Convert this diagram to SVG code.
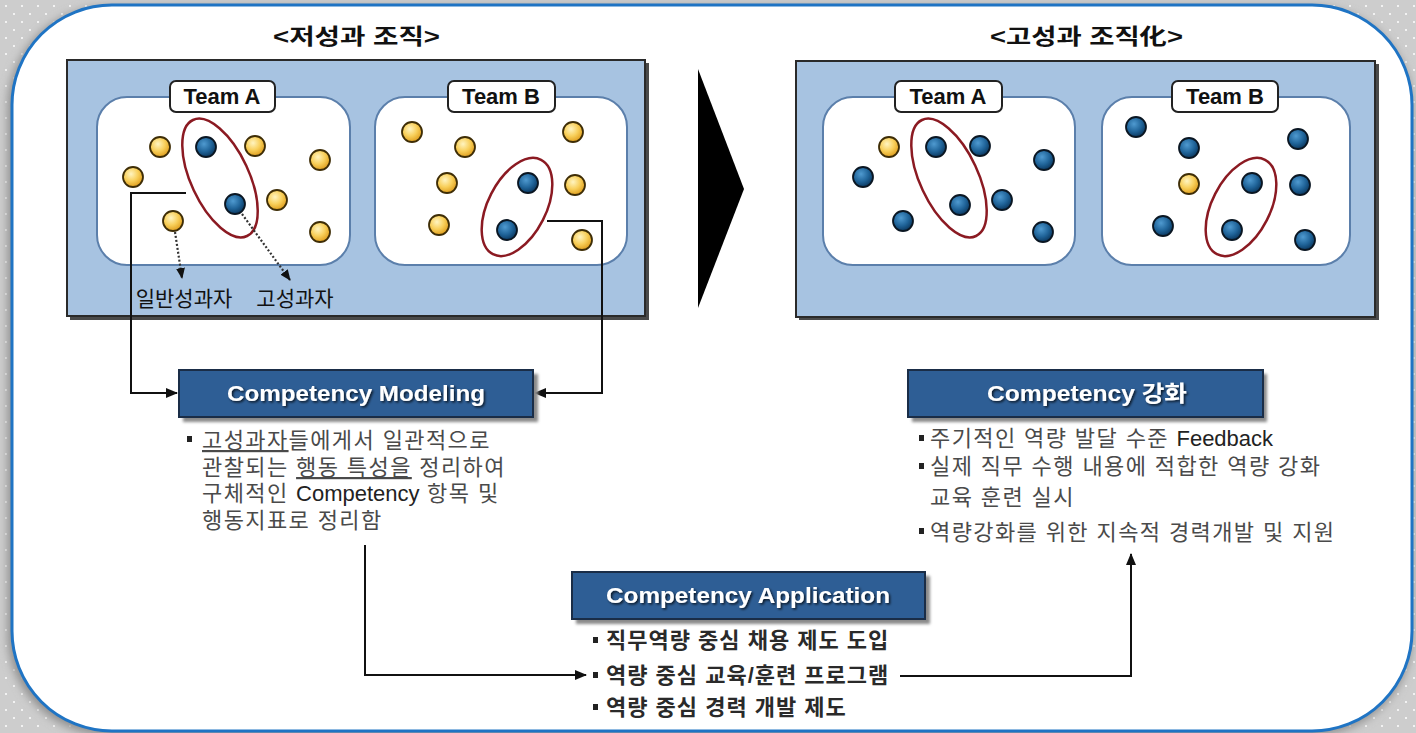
<svg xmlns="http://www.w3.org/2000/svg" width="1416" height="733" viewBox="0 0 1416 733">
<defs>
<pattern id="dots" width="16" height="16" patternUnits="userSpaceOnUse">
<rect width="16" height="16" fill="#cdcdcd"/>
<rect x="5" y="5" width="2" height="2" fill="#f2f2f2"/>
<rect x="13" y="13" width="2" height="2" fill="#f2f2f2"/>
</pattern>
<radialGradient id="gBlue" cx="0.4" cy="0.35" r="0.65">
<stop offset="0" stop-color="#4f9ad0"/>
<stop offset="0.6" stop-color="#1f6398"/>
<stop offset="1" stop-color="#0c3a62"/>
</radialGradient>
<radialGradient id="gYel" cx="0.4" cy="0.35" r="0.65">
<stop offset="0" stop-color="#fff4c0"/>
<stop offset="0.55" stop-color="#f8cf5a"/>
<stop offset="1" stop-color="#e0a020"/>
</radialGradient>
<filter id="blur" x="-5%" y="-5%" width="110%" height="110%"><feGaussianBlur stdDeviation="5"/></filter>
<filter id="sblur"><feGaussianBlur stdDeviation="1.5"/></filter>
<filter id="tsh" x="-5%" y="-20%" width="110%" height="150%"><feDropShadow dx="1.5" dy="1.5" stdDeviation="0.8" flood-color="#000" flood-opacity="0.75"/></filter>
<marker id="arr" markerWidth="12" markerHeight="10" refX="11" refY="5" orient="auto" markerUnits="userSpaceOnUse"><path d="M0,0 L12,5 L0,10 Z" fill="#111"/></marker>
<marker id="arrs" markerWidth="11" markerHeight="9" refX="10" refY="4.5" orient="auto" markerUnits="userSpaceOnUse"><path d="M0,0 L11,4.5 L0,9 Z" fill="#111"/></marker>
<style>
.panel{fill:#a7c3e1;stroke:#2a2a2a;stroke-width:2}
.psh{fill:#4a4a4a}
.team{fill:#fff;stroke:#5b7fab;stroke-width:2}
.lbl{fill:#fff;stroke:#222;stroke-width:2}
.lbltxt{font-family:"Liberation Sans",sans-serif;font-weight:bold;font-size:22px;fill:#111;text-anchor:middle}
.b{fill:url(#gBlue);stroke:#0a1622;stroke-width:1.8}
.y{fill:url(#gYel);stroke:#3e2d06;stroke-width:1.8}
.ell{fill:none;stroke:#8b1a22;stroke-width:2.5}
.conn{fill:none;stroke:#111;stroke-width:2}
.dotl{fill:none;stroke:#333;stroke-width:2.2;stroke-dasharray:2 2}
.box{fill:#2e5e95;stroke:#1a2d47;stroke-width:2}
.boxsh{fill:#8a8a8a}
.boxtxt{font-family:"Liberation Sans","Noto Sans CJK KR",sans-serif;font-weight:bold;font-size:22px;fill:#fff;filter:url(#tsh)}
.body{font-family:"Liberation Sans","Noto Sans CJK KR",sans-serif;font-size:22px;fill:#4a4a4a;letter-spacing:1.4px}
.lat{letter-spacing:0;fill:#222}
.app{font-family:"Liberation Sans","Noto Sans CJK KR",sans-serif;font-size:22px;font-weight:bold;fill:#2a2a2a;letter-spacing:1px}
.title{font-family:"Liberation Sans","Noto Sans CJK KR",sans-serif;font-weight:bold;font-size:22px;fill:#111}
.sub{font-family:"Liberation Sans","Noto Sans CJK KR",sans-serif;font-size:21px;fill:#111;text-anchor:middle}
.bul{fill:#222}
</style>
</defs>

<rect width="1416" height="733" fill="url(#dots)"/>
<rect x="8" y="7" width="1404" height="728" rx="100" fill="#8c8c8c" filter="url(#blur)"/>
<rect x="12" y="5" width="1400" height="726" rx="100" fill="#fff" stroke="#1f74c4" stroke-width="3"/>

<g id="title-left"><text class="title" x="273" y="44" textLength="167" lengthAdjust="spacingAndGlyphs">&lt;저성과 조직&gt;</text></g>
<g id="title-right"><text class="title" x="990" y="44" textLength="193" lengthAdjust="spacingAndGlyphs">&lt;고성과 조직化&gt;</text></g>

<g id="panel-low">
<rect class="psh" x="70" y="63" width="579" height="257"/>
<rect class="panel" x="67" y="60" width="578" height="256"/>
<g id="low-teamA">
<rect class="team" x="97" y="97" width="253" height="168" rx="30"/>
<rect class="lbl" x="170" y="81" width="105" height="31" rx="6"/>
<text class="lbltxt" x="222" y="104">Team A</text>
<ellipse class="ell" cx="220" cy="178" rx="29" ry="64" transform="rotate(-25 220 178)"/>
<circle class="y" cx="160" cy="147" r="10"/>
<circle class="b" cx="206" cy="147" r="10"/>
<circle class="y" cx="255" cy="146" r="10"/>
<circle class="y" cx="320" cy="160" r="10"/>
<circle class="y" cx="133" cy="177" r="10"/>
<circle class="y" cx="277" cy="200" r="10"/>
<circle class="b" cx="235" cy="204" r="10"/>
<circle class="y" cx="173" cy="221" r="10"/>
<circle class="y" cx="320" cy="232" r="10"/>
<path class="dotl" d="M175,232 L182,278" marker-end="url(#arrs)"/>
<path class="dotl" d="M242,214 L290,280" marker-end="url(#arrs)"/>
<text class="sub" x="184" y="306">일반성과자</text>
<text class="sub" x="295" y="306">고성과자</text>
</g>
<g id="low-teamB">
<rect class="team" x="375" y="97" width="252" height="168" rx="30"/>
<rect class="lbl" x="448" y="81" width="107" height="31" rx="6"/>
<text class="lbltxt" x="501" y="104">Team B</text>
<ellipse class="ell" cx="517" cy="207" rx="29" ry="53" transform="rotate(27 517 207)"/>
<circle class="y" cx="412" cy="132" r="10"/>
<circle class="y" cx="465" cy="147" r="10"/>
<circle class="y" cx="573" cy="132" r="10"/>
<circle class="y" cx="447" cy="183" r="10"/>
<circle class="b" cx="528" cy="183" r="10"/>
<circle class="y" cx="575" cy="185" r="10"/>
<circle class="y" cx="439" cy="225" r="10"/>
<circle class="b" cx="507" cy="230" r="10"/>
<circle class="y" cx="582" cy="240" r="10"/>
</g>
</g>

<g id="big-arrow"><polygon points="698,69 744,189 698,308" fill="#000"/></g>

<g id="panel-high">
<rect class="psh" x="799" y="64" width="580" height="256"/>
<rect class="panel" x="796" y="61" width="579" height="256"/>
<g id="high-teamA">
<rect class="team" x="823" y="97" width="252" height="168" rx="30"/>
<rect class="lbl" x="895" y="81" width="107" height="31" rx="6"/>
<text class="lbltxt" x="948" y="104">Team A</text>
<ellipse class="ell" cx="949" cy="178" rx="29" ry="64" transform="rotate(-25 949 178)"/>
<circle class="y" cx="889" cy="147" r="10"/>
<circle class="b" cx="936" cy="147" r="10"/>
<circle class="b" cx="980" cy="146" r="10"/>
<circle class="b" cx="1044" cy="160" r="10"/>
<circle class="b" cx="863" cy="177" r="10"/>
<circle class="b" cx="1002" cy="200" r="10"/>
<circle class="b" cx="960" cy="205" r="10"/>
<circle class="b" cx="903" cy="221" r="10"/>
<circle class="b" cx="1043" cy="232" r="10"/>
</g>
<g id="high-teamB">
<rect class="team" x="1102" y="97" width="248" height="168" rx="30"/>
<rect class="lbl" x="1172" y="81" width="106" height="31" rx="6"/>
<text class="lbltxt" x="1225" y="104">Team B</text>
<ellipse class="ell" cx="1241" cy="207" rx="29" ry="53" transform="rotate(27 1241 207)"/>
<circle class="b" cx="1136" cy="127" r="10"/>
<circle class="b" cx="1189" cy="148" r="10"/>
<circle class="b" cx="1298" cy="139" r="10"/>
<circle class="y" cx="1189" cy="184" r="10"/>
<circle class="b" cx="1252" cy="183" r="10"/>
<circle class="b" cx="1300" cy="185" r="10"/>
<circle class="b" cx="1163" cy="226" r="10"/>
<circle class="b" cx="1232" cy="230" r="10"/>
<circle class="b" cx="1305" cy="240" r="10"/>
</g>
</g>

<g id="connectors">
<path class="conn" d="M186,193 H131 V393 H177" marker-end="url(#arr)"/>
<path class="conn" d="M547,221 H602 V393 H535" marker-end="url(#arr)"/>
<path class="conn" d="M365,545 V675 H586" marker-end="url(#arr)"/>
<path class="conn" d="M900,676 H1131 V554" marker-end="url(#arr)"/>
</g>

<g id="modeling">
<rect class="boxsh" x="183" y="374" width="355" height="48" filter="url(#sblur)"/>
<rect class="box" x="179" y="370" width="354" height="47"/>
<text class="boxtxt" x="227" y="401" textLength="258" lengthAdjust="spacingAndGlyphs">Competency Modeling</text>
<rect class="bul" x="187" y="436" width="5" height="6"/>
<text class="body" x="202" y="448"><tspan text-decoration="underline">고성과자</tspan>들에게서 일관적으로</text>
<text class="body" x="202" y="475">관찰되는 <tspan text-decoration="underline">행동 특성을</tspan> 정리하여</text>
<text class="body" x="202" y="501">구체적인 <tspan class="lat">Competency</tspan> 항목 및</text>
<text class="body" x="202" y="528">행동지표로 정리함</text>
</g>

<g id="strengthen">
<rect class="boxsh" x="912" y="374" width="355" height="48" filter="url(#sblur)"/>
<rect class="box" x="908" y="370" width="355" height="47"/>
<text class="boxtxt" x="987" y="401" textLength="200" lengthAdjust="spacingAndGlyphs">Competency 강화</text>
<rect class="bul" x="919" y="435" width="5" height="6"/>
<text class="body" x="930" y="446">주기적인 역량 발달 수준 <tspan class="lat">Feedback</tspan></text>
<rect class="bul" x="919" y="463" width="5" height="6"/>
<text class="body" x="930" y="474">실제 직무 수행 내용에 적합한 역량 강화</text>
<text class="body" x="930" y="505">교육 훈련 실시</text>
<rect class="bul" x="919" y="528" width="5" height="6"/>
<text class="body" x="930" y="540">역량강화를 위한 지속적 경력개발 및 지원</text>
</g>

<g id="application">
<rect class="boxsh" x="576" y="576" width="354" height="48" filter="url(#sblur)"/>
<rect class="box" x="572" y="572" width="353" height="47"/>
<text class="boxtxt" x="606" y="603" textLength="284" lengthAdjust="spacingAndGlyphs">Competency Application</text>
<rect class="bul" x="593" y="637" width="5" height="6"/>
<text class="app" x="606" y="648">직무역량 중심 채용 제도 도입</text>
<rect class="bul" x="593" y="672" width="5" height="6"/>
<text class="app" x="606" y="683">역량 중심 교육/훈련 프로그램</text>
<rect class="bul" x="593" y="704" width="5" height="6"/>
<text class="app" x="606" y="715">역량 중심 경력 개발 제도</text>
</g>
</svg>
